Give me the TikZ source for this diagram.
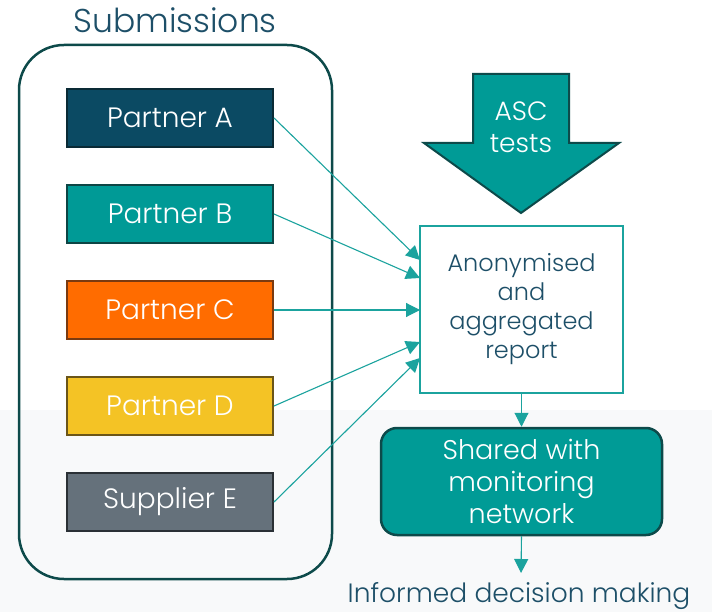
\documentclass[tikz,border=0pt]{standalone}
\usepackage{fontspec}
\setmainfont{Poppins Light}
\usetikzlibrary{arrows.meta,calc}
\definecolor{darkblue}{HTML}{1D4F68}
\definecolor{darkteal}{HTML}{0D4A4A}
\definecolor{teal2}{HTML}{009B96}
\definecolor{lineteal}{HTML}{1BA39E}
\definecolor{pA}{HTML}{0B4A63}
\definecolor{pAb}{HTML}{0A2A35}
\definecolor{pB}{HTML}{009A96}
\definecolor{pBb}{HTML}{0D4545}
\definecolor{pC}{HTML}{FF6C00}
\definecolor{pCb}{HTML}{7A3A10}
\definecolor{pD}{HTML}{F4C325}
\definecolor{pDb}{HTML}{6B5518}
\definecolor{pE}{HTML}{65717B}
\definecolor{pEb}{HTML}{2A3035}
\definecolor{bggray}{HTML}{F8F9FA}
\tikzset{
  partner/.style={draw, line width=2pt, minimum width=206pt, minimum height=58pt, inner sep=0pt,
    text=white, font=\fontsize{28}{30}\selectfont},
  feed/.style={draw=lineteal, line width=1.1pt, -{Triangle[length=14pt,width=14pt]}},
}
\begin{document}
\begin{tikzpicture}[x=1pt,y=-1pt]
\useasboundingbox (0,0) rectangle (712,612);
\fill[white] (0,0) rectangle (712,612);
\fill[bggray] (0,410) rectangle (712,612);
% title
\node[text=darkblue, font=\fontsize{33}{36}\selectfont] (title) at (175,20) {Submissions};
% outer container
\draw[darkteal, line width=2.5pt, rounded corners=45pt] (19,45) rectangle (332,579);
% partners
\node[partner, fill=pA, draw=pAb] (pa) at (170,118) {Partner A};
\node[partner, fill=pB, draw=pBb] (pb) at (170,214) {Partner B};
\node[partner, fill=pC, draw=pCb] (pc) at (170,310) {Partner C};
\node[partner, fill=pD, draw=pDb] (pd) at (170,406) {Partner D};
\node[partner, fill=pE, draw=pEb] (pe) at (170,502) {Supplier E};
% report
\node[draw=lineteal, line width=2.5pt, fill=white, minimum width=203pt, minimum height=167pt,
  align=center, text=darkblue, font=\fontsize{24}{29}\selectfont, inner sep=0pt] (rep) at (521.5,309.5)
  {Anonymised\\and\\aggregated\\report};
% ASC arrow
\draw[darkteal, fill=teal2, line width=2pt, line join=miter]
  (473,74) -- (569,74) -- (569,143) -- (619,143) -- (521,213) -- (424,143) -- (473,143) -- cycle;
\node[text=white, align=center, font=\fontsize{26.5}{32}\selectfont] (asc) at (521,127) {ASC\\tests};
% shared
\node[draw=darkteal, fill=teal2, line width=2.5pt, rounded corners=16pt, minimum width=281pt,
  minimum height=107pt, align=center, text=white, font=\fontsize{27}{32}\selectfont, inner sep=0pt]
  (sh) at (521.5,481.5) {Shared with\\monitoring\\network};
% final text
\node[text=darkblue, font=\fontsize{26.5}{30}\selectfont, inner sep=0pt] (inf) at (519,596) {Informed decision making};
% connector end points
\coordinate (ta) at (420,260);
\coordinate (tb) at (420,278);
\coordinate (tc) at (420,310);
\coordinate (td) at (420,342);
\coordinate (te) at (420,358);
\coordinate (fin) at (521,573);
\draw[feed] (pa.east) -- (ta);
\draw[feed] (pb.east) -- (tb);
\draw[feed] (pc.east) -- (tc);
\draw[feed] (pd.east) -- (td);
\draw[feed] (pe.east) -- (te);
\draw[feed] (rep.south) -- (sh.north);
\draw[feed] (sh.south) -- (fin);
\end{tikzpicture}
\end{document}
